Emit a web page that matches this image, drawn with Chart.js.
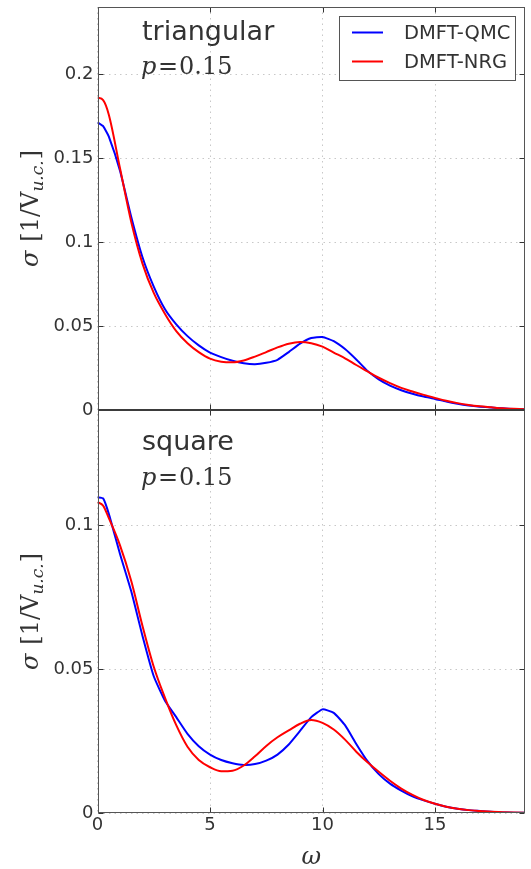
<!DOCTYPE html>
<html>
<head>
<meta charset="utf-8">
<script src="https://cdn.jsdelivr.net/npm/chart.js@4.4.1/dist/chart.umd.min.js"></script>
<style>
  html, body { margin: 0; padding: 0; background: #fff; }
  #wrap { width: 531px; height: 869px; }
</style>
</head>
<body>
<div id="wrap"><canvas id="sigma" width="531" height="869"></canvas></div>
<script>
// frequency grid (shared by all curves)
const omega = [0, 0.25, 0.5, 1, 1.5, 2, 2.5, 3, 3.5, 4, 4.5, 5, 5.5, 6, 6.5, 7, 7.5, 8, 8.5, 9,
  9.5, 10, 10.5, 11, 11.5, 12, 12.5, 13, 13.5, 14, 14.5, 15, 15.5, 16, 16.5, 17, 17.5, 18, 18.5, 19];

// triangular lattice, p = 0.15
const triQMC = [0.1713, 0.169, 0.163, 0.1425, 0.115, 0.091, 0.0735, 0.060, 0.051, 0.044, 0.0385,
  0.0342, 0.0315, 0.0293, 0.0278, 0.0272, 0.0281, 0.0299, 0.0345, 0.0395, 0.0429, 0.0435, 0.041,
  0.0363, 0.0301, 0.0233, 0.0182, 0.0145, 0.0118, 0.0097, 0.008, 0.0066, 0.005, 0.0037, 0.0027,
  0.002, 0.0015, 0.001, 0.0006, 0.0004];
const triNRG = [0.186, 0.1845, 0.176, 0.144, 0.112, 0.0872, 0.0697, 0.0572, 0.047, 0.0398, 0.0345,
  0.0306, 0.0288, 0.0284, 0.0295, 0.0318, 0.0345, 0.0373, 0.0395, 0.0405, 0.0398, 0.0377, 0.0342,
  0.0308, 0.0268, 0.0230, 0.0192, 0.0160, 0.0132, 0.0110, 0.0090, 0.0072, 0.0055, 0.0041, 0.0030,
  0.0022, 0.0016, 0.0010, 0.0007, 0.0004];

// square lattice, p = 0.15
const sqQMC = [0.1097, 0.1093, 0.104, 0.090, 0.077, 0.0615, 0.0475, 0.039, 0.0333, 0.0275, 0.0232,
  0.0203, 0.0184, 0.0173, 0.0167, 0.0170, 0.0182, 0.0203, 0.0238, 0.0285, 0.0333, 0.0360, 0.0348,
  0.0305, 0.0240, 0.0180, 0.0135, 0.0102, 0.0078, 0.0058, 0.0044, 0.0032, 0.0022, 0.0015, 0.0010,
  0.0007, 0.0004, 0.0002, 0.0001, 0.0001];
const sqNRG = [0.108, 0.1068, 0.1025, 0.093, 0.0806, 0.065, 0.0508, 0.0400, 0.0305, 0.0230, 0.0184,
  0.0159, 0.0145, 0.0147, 0.0165, 0.0197, 0.0233, 0.0263, 0.0287, 0.0310, 0.0323, 0.0313, 0.0290,
  0.0255, 0.0213, 0.0176, 0.0143, 0.0112, 0.0085, 0.0063, 0.0045, 0.0032, 0.0022, 0.0015, 0.0010,
  0.0007, 0.0004, 0.0003, 0.0002, 0.0001];

const seriesNames = ["DMFT-QMC", "DMFT-NRG"];
const panelNames = ["triangular", "square"];
const fillingText = "0.15";

const xTicks = [0, 5, 10, 15];
const xTickLabels = ["0", "5", "10", "15"];
const yTopTicks = [0, 0.05, 0.1, 0.15, 0.2];
const yTopLabels = ["0", "0.05", "0.1", "0.15", "0.2"];
const yBotTicks = [0, 0.05, 0.1];
const yBotLabels = ["0", "0.05", "0.1"];

const BLUE = "#0000ff", RED = "#ff0000", INK = "#333333";
const SANS = "'DejaVu Sans', sans-serif";
const SERIF = "'DejaVu Serif', serif";

const pts = ys => ys.map((y, i) => ({ x: omega[i], y }));

function line(label, data, color, axis, smooth) {
  return {
    label, data: pts(data), yAxisID: axis,
    borderColor: color, borderWidth: 2, pointRadius: 0, fill: false,
    tension: smooth ? 0 : 0.15, cubicInterpolationMode: smooth ? "monotone" : "default"
  };
}

// no automatic label overhang padding, the page padding places the plot area
function noPad(s) {
  s.paddingTop = 0; s.paddingBottom = 0; s.paddingLeft = 0; s.paddingRight = 0;
}

function yScale(ticks, labels, max) {
  return {
    type: "linear", position: "left", stack: "panels", stackWeight: 1,
    min: 0, max,
    afterBuildTicks: s => { s.ticks = ticks.map(v => ({ value: v })); },
    afterFit: s => { s.width = 60; noPad(s); },
    ticks: {
      callback: (v, i) => labels[i],
      font: { family: SANS, size: 18 }, color: INK, padding: 4
    },
    grid: { color: "#c8c8c8", lineWidth: 1, drawTicks: false },
    border: { display: false, dash: [1.5, 4] }
  };
}

// math-ish text helpers
function drawP(ctx, x, y) {
  ctx.fillStyle = INK;
  ctx.textBaseline = "alphabetic";
  ctx.textAlign = "left";
  ctx.font = "italic 24px " + SERIF;
  ctx.fillText("p", x, y);
  ctx.font = "24px " + SERIF;
  ctx.fillText("=", x + 17, y);
  ctx.fillText(fillingText, x + 38, y);
}

function drawYTitle(ctx, cx, cy) {
  ctx.save();
  ctx.translate(cx, cy);
  ctx.rotate(-Math.PI / 2);
  ctx.fillStyle = INK;
  ctx.textBaseline = "alphabetic";
  ctx.textAlign = "left";
  const parts = [
    { t: "σ", f: "italic 24px " + SERIF, dy: 0, gap: 9 },
    { t: "[1/V", f: "24px " + SERIF, dy: 0, gap: 0 },
    { t: "u.c.", f: "italic 17px " + SERIF, dy: 5, gap: 1 },
    { t: "]", f: "24px " + SERIF, dy: 0, gap: 0 }
  ];
  let w = 0;
  parts.forEach(p => { ctx.font = p.f; p.w = ctx.measureText(p.t).width; w += p.w + p.gap; });
  let x = -w / 2;
  parts.forEach(p => { ctx.font = p.f; ctx.fillText(p.t, x, p.dy); x += p.w + p.gap; });
  ctx.restore();
}

const decor = {
  id: "decor",
  afterDatasetsDraw(chart) {
    const { ctx, scales } = chart;
    const sx = scales.x, yT = scales.yTop, yB = scales.yBot;
    const L = Math.round(sx.left) + 0.5, R = Math.round(sx.right) - 0.5;
    const panels = [
      { s: yT, ticks: yTopTicks },
      { s: yB, ticks: yBotTicks }
    ];
    ctx.save();
    // inward tick marks
    ctx.strokeStyle = INK;
    ctx.lineWidth = 1;
    ctx.beginPath();
    panels.forEach(p => {
      const top = Math.round(p.s.top) + 0.5, bot = Math.round(p.s.bottom) - 0.5;
      p.ticks.forEach(v => {
        const y = Math.round(p.s.getPixelForValue(v)) + 0.5;
        ctx.moveTo(L, y); ctx.lineTo(L + 5, y);
        ctx.moveTo(R, y); ctx.lineTo(R - 5, y);
      });
      xTicks.forEach(v => {
        const x = Math.round(sx.getPixelForValue(v)) + 0.5;
        ctx.moveTo(x, top); ctx.lineTo(x, top + 5);
        ctx.moveTo(x, bot); ctx.lineTo(x, bot - 5);
      });
    });
    ctx.stroke();
    // panel frames
    ctx.strokeStyle = "#555";
    ctx.lineWidth = 1;
    panels.forEach(p => {
      const top = Math.round(p.s.top) + 0.5, bot = Math.round(p.s.bottom) - 0.5;
      ctx.strokeRect(L, top, R - L, bot - top);
    });
    ctx.strokeStyle = INK;
    ctx.lineWidth = 1.5;
    ctx.beginPath();
    ctx.moveTo(L, Math.round(yT.bottom));
    ctx.lineTo(R, Math.round(yT.bottom));
    ctx.stroke();

    // panel captions
    ctx.fillStyle = INK;
    ctx.textAlign = "left";
    ctx.textBaseline = "alphabetic";
    ctx.font = "27px " + SANS;
    ctx.fillText(panelNames[0], 142, yT.top + 33);
    drawP(ctx, 141, yT.top + 67);
    ctx.font = "27px " + SANS;
    ctx.fillText(panelNames[1], 142, yB.top + 40);
    drawP(ctx, 141, yB.top + 75);

    // legend
    const lx = 339.5, ly = 16.5, lw = 176, lh = 64;
    ctx.fillStyle = "#fff";
    ctx.fillRect(lx, ly, lw, lh);
    ctx.strokeStyle = "#555";
    ctx.lineWidth = 1;
    ctx.strokeRect(lx, ly, lw, lh);
    [BLUE, RED].forEach((c, i) => {
      const y = 32.5 + i * 29;
      ctx.strokeStyle = c;
      ctx.lineWidth = 2;
      ctx.beginPath();
      ctx.moveTo(352, y); ctx.lineTo(383, y);
      ctx.stroke();
      ctx.fillStyle = INK;
      ctx.font = "19.5px " + SANS;
      ctx.textBaseline = "middle";
      ctx.fillText(seriesNames[i], 404, y + 1);
    });

    // axis titles
    drawYTitle(ctx, 38, (yT.top + yT.bottom) / 2);
    drawYTitle(ctx, 38, (yB.top + yB.bottom) / 2);
    ctx.fillStyle = INK;
    ctx.textAlign = "center";
    ctx.textBaseline = "alphabetic";
    ctx.font = "italic 24px " + SERIF;
    ctx.fillText("ω", (sx.left + sx.right) / 2, 864);
    ctx.restore();
  }
};

new Chart(document.getElementById("sigma"), {
  type: "line",
  data: {
    datasets: [
      line(seriesNames[1], triNRG, RED, "yTop", true),
      line(seriesNames[0], triQMC, BLUE, "yTop", false),
      line(seriesNames[1], sqNRG, RED, "yBot", true),
      line(seriesNames[0], sqQMC, BLUE, "yBot", false)
    ]
  },
  options: {
    responsive: false,
    animation: false,
    devicePixelRatio: 1,
    layout: { padding: { left: 37.5, right: 6, top: 7, bottom: 0 } },
    plugins: { legend: { display: false }, tooltip: { enabled: false } },
    scales: {
      x: {
        type: "linear", min: 0, max: 19,
        afterBuildTicks: s => { s.ticks = xTicks.map(v => ({ value: v })); },
        afterFit: s => { s.height = 56; noPad(s); },
        ticks: {
          callback: (v, i) => xTickLabels[i],
          font: { family: SANS, size: 18 }, color: INK, padding: 2, maxRotation: 0
        },
        grid: { color: "#c8c8c8", lineWidth: 1, drawTicks: false },
        border: { display: false, dash: [1.5, 4] }
      },
      // in a Chart.js stack the first listed axis ends up at the bottom
      yBot: yScale(yBotTicks, yBotLabels, 0.14),
      yTop: yScale(yTopTicks, yTopLabels, 0.24)
    }
  },
  plugins: [decor]
});
</script>
</body>
</html>
